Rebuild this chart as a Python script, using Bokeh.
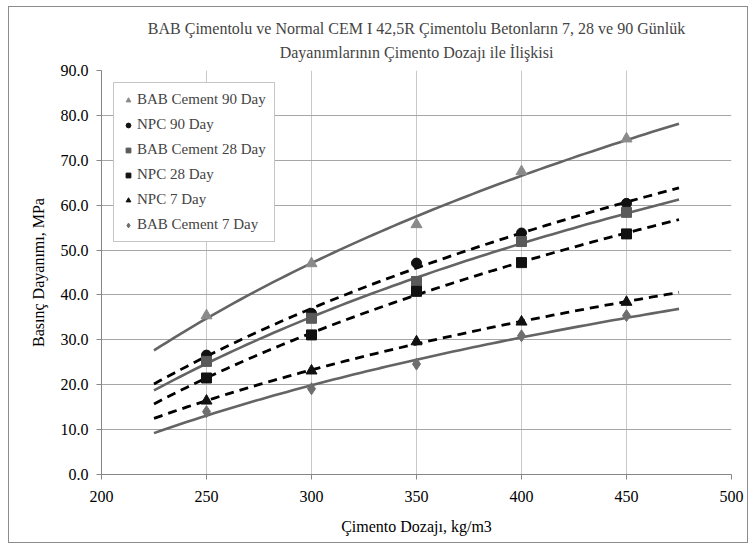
import numpy as np
from bokeh.plotting import figure
from bokeh.models import Range1d, Legend, LegendItem, Title, NumeralTickFormatter
from bokeh.embed import file_html
from bokeh.resources import INLINE

# ---- data ----
cement_dose = [250, 300, 350, 400, 450]
bab_90 = [35.4, 47.0, 55.7, 67.5, 74.8]
npc_90 = [26.6, 35.9, 47.1, 53.8, 60.4]
bab_28 = [25.2, 34.8, 43.0, 51.9, 58.4]
npc_28 = [21.5, 31.1, 40.8, 47.2, 53.6]
npc_7 = [16.4, 23.1, 29.6, 34.0, 38.4]
bab_7 = [14.0, 19.1, 24.6, 30.9, 35.4]
trend_span = [225, 475]
x_ticks = [200, 250, 300, 350, 400, 450, 500]
y_ticks = [0, 10, 20, 30, 40, 50, 60, 70, 80, 90]
title_lines = ["BAB Çimentolu ve Normal CEM I 42,5R Çimentolu Betonların 7, 28 ve 90 Günlük",
               "Dayanımlarının Çimento Dozajı ile İlişkisi"]
x_label = "Çimento Dozajı, kg/m3"
y_label = "Basınç Dayanımı, MPa"

FONT = "Liberation Serif"

p = figure(width=740, height=537, output_backend="svg", toolbar_location=None,
           x_range=Range1d(200, 500), y_range=Range1d(0, 90),
           title=title_lines[0],
           min_border_left=92, min_border_right=18, min_border_top=63, min_border_bottom=70)
p.styles = {"border": "1px solid #8c8c8c", "margin-left": "8px", "margin-top": "6px"}
p.outline_line_color = None
p.background_fill_color = "white"
p.border_fill_color = "white"

p.title.align = "center"
p.title.text_font = FONT
p.title.text_font_size = "16px"
p.title.text_font_style = "normal"
p.title.standoff = 0
p.add_layout(Title(text=title_lines[1], align="center", text_font=FONT,
                   text_font_size="16px", text_font_style="normal",
                   vertical_align="top", standoff=15), "above")

p.xaxis.ticker = x_ticks
p.yaxis.ticker = y_ticks
p.yaxis.formatter = NumeralTickFormatter(format="0.0")
for ax in (p.xaxis, p.yaxis):
    ax.axis_line_color = "#868686"
    ax.major_tick_line_color = "#868686"
    ax.major_tick_in = 0
    ax.major_tick_out = 5
    ax.minor_tick_line_color = None
    ax.major_label_text_font = FONT
    ax.major_label_text_font_size = "16px"
    ax.major_label_text_color = "black"
    ax.axis_label_text_font = FONT
    ax.axis_label_text_font_size = "16px"
    ax.axis_label_text_font_style = "normal"
    ax.axis_label_text_color = "black"
p.xaxis.axis_label = x_label
p.yaxis.axis_label = y_label
p.xaxis.major_label_standoff = 11
p.yaxis.major_label_standoff = 8
p.xaxis.axis_label_standoff = 13
p.yaxis.axis_label_standoff = 11

p.xgrid.grid_line_color = "#c8c8c8"
p.ygrid.grid_line_color = "#a6a6a6"

series = [
    ("BAB Cement 90 Day", bab_90, "triangle", "#8a8a8a", 11, "solid"),
    ("NPC 90 Day", npc_90, "circle", "#111111", 10, "dashed"),
    ("BAB Cement 28 Day", bab_28, "square", "#5a5a5a", 10, "solid"),
    ("NPC 28 Day", npc_28, "square", "#111111", 10, "dashed"),
    ("NPC 7 Day", npc_7, "triangle", "#111111", 11, "dashed"),
    ("BAB Cement 7 Day", bab_7, "diamond", "#6e6e6e", 12, "solid"),
]

xs = np.linspace(trend_span[0], trend_span[1], 80)
for name, vals, marker, color, size, style in series:
    a, b = np.polyfit(np.log(cement_dose), vals, 1)
    ys = a * np.log(xs) + b
    if style == "solid":
        p.line(xs, ys, line_color="#646464", line_width=2.6)
    else:
        p.line(xs, ys, line_color="#000000", line_width=2.8, line_dash="9 6")

items = []
for name, vals, marker, color, size, style in series:
    r = p.scatter(cement_dose, vals, marker=marker, size=size,
                  fill_color=color, line_color=color)
    items.append(LegendItem(label=name, renderers=[r]))

legend = Legend(items=items, location="top_left", margin=12, padding=8,
                glyph_width=12, glyph_height=14, label_height=14, spacing=8,
                label_standoff=3, label_text_font=FONT, label_text_font_size="15px",
                border_line_color="#8c8c8c", border_line_width=1,
                background_fill_color="white", background_fill_alpha=1.0)
p.add_layout(legend, "center")

open("out.html", "w").write(file_html(p, INLINE))
